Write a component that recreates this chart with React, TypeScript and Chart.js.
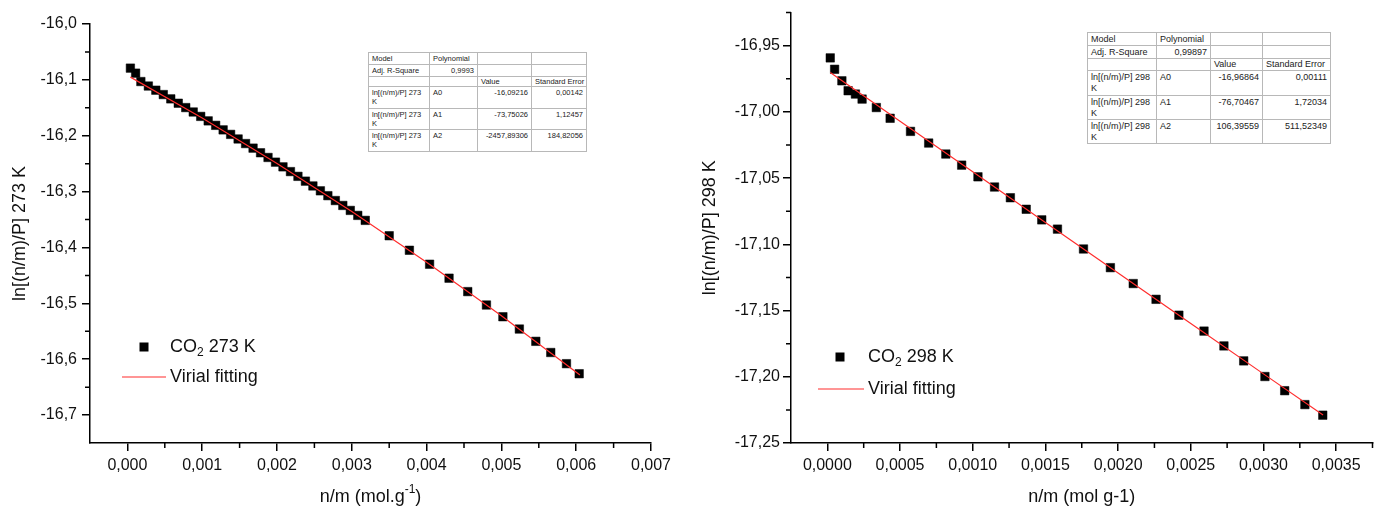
import React, { useEffect, useRef } from 'react';
import { Chart, registerables } from 'chart.js';

Chart.register(...registerables);

const FONT = '"Liberation Sans", Arial, Helvetica, sans-serif';

// ---------- CO2 at 273 K ----------
const uptake273 = [
  0.00004, 0.00011, 0.00018, 0.00028, 0.00038, 0.00048, 0.00058, 0.00068, 0.00078, 0.00088,
  0.00098, 0.00108, 0.00118, 0.00128, 0.00138, 0.00148, 0.00158, 0.00168, 0.00178, 0.00188,
  0.00198, 0.00208, 0.00218, 0.00228, 0.00238, 0.00248, 0.00258, 0.00268, 0.00278, 0.00288,
  0.00298, 0.00308, 0.00318,
  0.0035, 0.00377, 0.00404, 0.0043, 0.00455, 0.0048, 0.00502, 0.00524, 0.00546, 0.00566,
  0.00587, 0.00604,
];
const lnNP273 = [
  -16.079, -16.088, -16.103, -16.111, -16.1185, -16.1263, -16.134, -16.1418, -16.1496, -16.1575,
  -16.1654, -16.1734, -16.1814, -16.1895, -16.1976, -16.2058, -16.214, -16.2222, -16.2305, -16.2389,
  -16.2473, -16.2557, -16.2642, -16.2727, -16.2813, -16.2899, -16.2986, -16.3073, -16.316, -16.3248,
  -16.3337, -16.3426, -16.3515,
  -16.379, -16.405, -16.43, -16.455, -16.479, -16.503, -16.524, -16.546, -16.568, -16.588,
  -16.608, -16.626,
];
const fitX273 = [0.00004, 0.001, 0.002, 0.003, 0.004, 0.005, 0.00605];
const fitY273 = [-16.0951, -16.1684, -16.2495, -16.3355, -16.4265, -16.5224, -16.6283];

const xMajor273 = [0, 0.001, 0.002, 0.003, 0.004, 0.005, 0.006, 0.007];
const xLabels273 = ['0,000', '0,001', '0,002', '0,003', '0,004', '0,005', '0,006', '0,007'];
const xMinor273 = [0.0005, 0.0015, 0.0025, 0.0035, 0.0045, 0.0055, 0.0065];
const yMajor273 = [-16.7, -16.6, -16.5, -16.4, -16.3, -16.2, -16.1, -16.0];
const yLabels273 = ['-16,7', '-16,6', '-16,5', '-16,4', '-16,3', '-16,2', '-16,1', '-16,0'];
const yMinor273 = [-16.65, -16.55, -16.45, -16.35, -16.25, -16.15, -16.05];

const fitRows273 = [
  ['Model', 'Polynomial', '', ''],
  ['Adj. R-Square', '0,9993', '', ''],
  ['', '', 'Value', 'Standard Error'],
  ['ln[(n/m)/P] 273\nK', 'A0', '-16,09216', '0,00142'],
  ['ln[(n/m)/P] 273\nK', 'A1', '-73,75026', '1,12457'],
  ['ln[(n/m)/P] 273\nK', 'A2', '-2457,89306', '184,82056'],
];

// ---------- CO2 at 298 K ----------
const uptake298 = [
  0.00002, 0.00005, 0.0001, 0.000143, 0.000193, 0.000239, 0.000337, 0.000432, 0.000572, 0.000697,
  0.000815, 0.000924, 0.001036, 0.00115, 0.001259, 0.001368, 0.001475, 0.001583, 0.001762, 0.001947,
  0.002104, 0.002261, 0.002418, 0.002591, 0.002728, 0.002864, 0.00301, 0.003146, 0.003285, 0.003408,
];
const lnNP298 = [
  -16.9592, -16.9678, -16.9765, -16.984, -16.9865, -16.9903, -16.9967, -17.0048, -17.0147, -17.0235,
  -17.0318, -17.0402, -17.049, -17.0567, -17.0648, -17.0735, -17.0815, -17.0885, -17.1035, -17.1176,
  -17.1296, -17.1415, -17.1535, -17.1655, -17.1767, -17.188, -17.1998, -17.2105, -17.221, -17.229,
];
const fitX298 = [0.00002, 0.0005, 0.001, 0.0015, 0.002, 0.0025, 0.003, 0.00341];
const fitY298 = [-16.9702, -17.007, -17.0452, -17.0835, -17.1216, -17.1597, -17.1978, -17.2289];

const xMajor298 = [0, 0.0005, 0.001, 0.0015, 0.002, 0.0025, 0.003, 0.0035];
const xLabels298 = ['0,0000', '0,0005', '0,0010', '0,0015', '0,0020', '0,0025', '0,0030', '0,0035'];
const xMinor298 = [0.00025, 0.00075, 0.00125, 0.00175, 0.00225, 0.00275, 0.00325, 0.00375];
const yMajor298 = [-17.25, -17.2, -17.15, -17.1, -17.05, -17.0, -16.95];
const yLabels298 = ['-17,25', '-17,20', '-17,15', '-17,10', '-17,05', '-17,00', '-16,95'];
const yMinor298 = [-17.225, -17.175, -17.125, -17.075, -17.025, -16.975, -16.925];

const fitRows298 = [
  ['Model', 'Polynomial', '', ''],
  ['Adj. R-Square', '0,99897', '', ''],
  ['', '', 'Value', 'Standard Error'],
  ['ln[(n/m)/P] 298\nK', 'A0', '-16,96864', '0,00111'],
  ['ln[(n/m)/P] 298\nK', 'A1', '-76,70467', '1,72034'],
  ['ln[(n/m)/P] 298\nK', 'A2', '106,39559', '511,52349'],
];

type Part = { t: string; size?: number; shift?: number };

function partsWidth(ctx: CanvasRenderingContext2D, parts: Part[], base: number) {
  let w = 0;
  for (const p of parts) {
    ctx.font = `${p.size || base}px ${FONT}`;
    w += ctx.measureText(p.t).width;
  }
  return w;
}

function drawParts(ctx: CanvasRenderingContext2D, parts: Part[], x: number, y: number, base: number) {
  let cx = x;
  for (const p of parts) {
    ctx.font = `${p.size || base}px ${FONT}`;
    ctx.fillText(p.t, cx, y + (p.shift || 0));
    cx += ctx.measureText(p.t).width;
  }
}

// Minor ticks, axis titles and the in-plot legend
function makeDecorPlugin(o: any) {
  return {
    id: 'decor',
    afterDraw(chart: any) {
      const ctx: CanvasRenderingContext2D = chart.ctx;
      const xs = chart.scales.x;
      const ys = chart.scales.y;
      const area = chart.chartArea;
      ctx.save();
      ctx.textAlign = 'left';
      ctx.strokeStyle = '#000';
      ctx.lineWidth = 1.5;
      ctx.beginPath();
      for (const v of o.xMinor) {
        const px = xs.getPixelForValue(v);
        ctx.moveTo(px, area.bottom);
        ctx.lineTo(px, area.bottom + 5);
      }
      for (const v of o.yMinor) {
        const py = ys.getPixelForValue(v);
        ctx.moveTo(area.left, py);
        ctx.lineTo(area.left - 5, py);
      }
      ctx.stroke();

      ctx.fillStyle = '#111';
      ctx.textBaseline = 'middle';
      // x title
      const xw = partsWidth(ctx, o.xTitle, 18);
      drawParts(ctx, o.xTitle, (area.left + area.right) / 2 - xw / 2, o.xTitleY, 18);
      // y title
      ctx.save();
      ctx.translate(o.yTitleX, (area.top + area.bottom) / 2);
      ctx.rotate(-Math.PI / 2);
      ctx.font = `18px ${FONT}`;
      ctx.textAlign = 'center';
      ctx.fillText(o.yTitle, 0, 0);
      ctx.restore();

      // legend
      const lg = o.legend;
      const pts = chart.data.datasets[1];
      const fit = chart.data.datasets[0];
      ctx.fillStyle = pts.backgroundColor;
      ctx.fillRect(lg.markerX - 4.5, lg.markerY - 4.5, 9, 9);
      ctx.strokeStyle = fit.borderColor;
      ctx.lineWidth = 1.2;
      ctx.beginPath();
      ctx.moveTo(lg.lineX0, lg.lineY);
      ctx.lineTo(lg.lineX1, lg.lineY);
      ctx.stroke();
      ctx.fillStyle = '#111';
      ctx.textAlign = 'left';
      drawParts(ctx, lg.pointsLabel, lg.textX, lg.markerY, 18);
      drawParts(ctx, [{ t: fit.label }], lg.textX, lg.lineY, 18);
      ctx.restore();
    },
  };
}

function makeConfig(p: any) {
  return {
    type: 'scatter',
    data: {
      datasets: [
        {
          label: 'Virial fitting',
          data: p.fitX.map((x: number, i: number) => ({ x, y: p.fitY[i] })),
          showLine: true,
          borderColor: 'rgb(255,45,45)',
          borderWidth: 1.2,
          pointRadius: 0,
          tension: 0,
          fill: false,
        },
        {
          label: p.seriesName,
          data: p.xs.map((x: number, i: number) => ({ x, y: p.ys[i] })),
          pointStyle: 'rect',
          pointRadius: 6,
          backgroundColor: '#000',
          borderColor: '#000',
          borderWidth: 0.5,
          showLine: false,
          clip: false,
        },
      ],
    },
    options: {
      animation: false,
      responsive: false,
      maintainAspectRatio: false,
      events: [],
      layout: { padding: { top: p.top, right: p.right, left: 0, bottom: 0 } },
      plugins: {
        legend: { display: false },
        tooltip: { enabled: false },
      },
      scales: {
        x: {
          type: 'linear',
          min: p.xMin,
          max: p.xMax,
          afterBuildTicks: (s: any) => {
            s.ticks = p.xMajor.map((value: number) => ({ value }));
          },
          afterFit: (s: any) => {
            s.height = p.xAxisHeight;
          },
          border: { display: true, color: '#000', width: 1.5 },
          grid: { display: true, drawOnChartArea: false, drawTicks: true, tickLength: 8, color: '#000', lineWidth: 1.5 },
          ticks: {
            autoSkip: false,
            maxRotation: 0,
            padding: 5,
            color: '#111',
            font: { family: FONT, size: 16 },
            callback: (_v: number, i: number) => p.xLabels[i],
          },
        },
        y: {
          type: 'linear',
          min: p.yMin,
          max: p.yMax,
          afterBuildTicks: (s: any) => {
            s.ticks = p.yMajor.map((value: number) => ({ value }));
          },
          afterFit: (s: any) => {
            s.width = p.yAxisWidth;
          },
          border: { display: true, color: '#000', width: 1.5 },
          grid: { display: true, drawOnChartArea: false, drawTicks: true, tickLength: 8, color: '#000', lineWidth: 1.5 },
          ticks: {
            autoSkip: false,
            padding: p.yPad,
            color: '#111',
            font: { family: FONT, size: 16 },
            callback: (_v: number, i: number) => p.yLabels[i],
          },
        },
      },
    },
    plugins: [makeDecorPlugin(p.decor)],
  };
}

function PlotCanvas({ width, height, config, left }: any) {
  const ref = useRef<HTMLCanvasElement | null>(null);
  useEffect(() => {
    if (!ref.current) return;
    const chart = new Chart(ref.current, config);
    return () => chart.destroy();
  }, []);
  return (
    <canvas
      ref={ref}
      width={width}
      height={height}
      style={{ position: 'absolute', left, top: 0, width, height }}
    />
  );
}

function FitTable({ left, top, colWidths, rowHeights, fontSize, rows }: any) {
  const total = colWidths.reduce((a: number, b: number) => a + b, 0);
  const isNum = (s: string) => /^-?\d+,\d+$/.test(s);
  return (
    <table
      style={{
        position: 'absolute',
        left,
        top,
        width: total,
        borderCollapse: 'collapse',
        tableLayout: 'fixed',
        fontFamily: FONT,
        fontSize,
        color: '#222',
        background: '#fff',
        border: '1px solid #8a8a8a',
      }}
    >
      <colgroup>
        {colWidths.map((w: number, i: number) => (
          <col key={i} style={{ width: w }} />
        ))}
      </colgroup>
      <tbody>
        {rows.map((r: string[], ri: number) => (
          <tr key={ri} style={{ height: rowHeights[ri] }}>
            {r.map((c: string, ci: number) => (
              <td
                key={ci}
                style={{
                  border: '1px solid #b8b8b8',
                  padding: ri >= 3 ? '1px 3px 0 3px' : '0 3px',
                  textAlign: isNum(c) ? 'right' : 'left',
                  verticalAlign: ri >= 3 ? 'top' : 'middle',
                  whiteSpace: 'pre',
                  lineHeight: `${Math.round(fontSize * 1.25)}px`,
                  overflow: 'hidden',
                  boxSizing: 'border-box',
                }}
              >
                {c}
              </td>
            ))}
          </tr>
        ))}
      </tbody>
    </table>
  );
}

const config273 = makeConfig({
  seriesName: 'CO2 273 K',
  xs: uptake273,
  ys: lnNP273,
  fitX: fitX273,
  fitY: fitY273,
  xMin: -0.0005,
  xMax: 0.007,
  yMin: -16.75,
  yMax: -16.0,
  xMajor: xMajor273,
  xLabels: xLabels273,
  yMajor: yMajor273,
  yLabels: yLabels273,
  top: 24,
  right: 39,
  xAxisHeight: 66,
  yAxisWidth: 90,
  yPad: 5,
  decor: {
    xMinor: xMinor273,
    yMinor: yMinor273,
    xTitle: [{ t: 'n/m (mol.g' }, { t: '-1', size: 12, shift: -7 }, { t: ')' }],
    xTitleY: 497,
    yTitle: 'ln[(n/m)/P] 273 K',
    yTitleX: 20,
    legend: {
      markerX: 144,
      markerY: 347,
      lineX0: 122,
      lineX1: 166,
      lineY: 377,
      textX: 170,
      pointsLabel: [{ t: 'CO' }, { t: '2', size: 12, shift: 6 }, { t: ' 273 K' }],
    },
  },
});

const config298 = makeConfig({
  seriesName: 'CO2 298 K',
  xs: uptake298,
  ys: lnNP298,
  fitX: fitX298,
  fitY: fitY298,
  xMin: -0.00025,
  xMax: 0.00375,
  yMin: -17.25,
  yMax: -16.925,
  xMajor: xMajor298,
  xLabels: xLabels298,
  yMajor: yMajor298,
  yLabels: yLabels298,
  top: 7,
  right: 1,
  xAxisHeight: 66,
  yAxisWidth: 101,
  yPad: 3,
  decor: {
    xMinor: xMinor298,
    yMinor: yMinor298,
    xTitle: [{ t: 'n/m (mol g-1)' }],
    xTitleY: 497,
    yTitle: 'ln[(n/m)/P] 298 K',
    yTitleX: 20,
    legend: {
      markerX: 150,
      markerY: 357,
      lineX0: 128,
      lineX1: 174,
      lineY: 389,
      textX: 178,
      pointsLabel: [{ t: 'CO' }, { t: '2', size: 12, shift: 6 }, { t: ' 298 K' }],
    },
  },
});

export default function App() {
  return (
    <div
      style={{
        position: 'fixed',
        left: 0,
        top: 0,
        width: 1379,
        height: 509,
        background: '#fff',
        overflow: 'hidden',
      }}
    >
      <PlotCanvas width={690} height={509} left={0} config={config273} />
      <PlotCanvas width={689} height={509} left={690} config={config298} />
      <FitTable
        left={368}
        top={52}
        colWidths={[61, 48, 54, 55]}
        rowHeights={[12, 12, 10, 22, 21, 22]}
        fontSize={7.5}
        rows={fitRows273}
      />
      <FitTable
        left={1087}
        top={32}
        colWidths={[69, 54, 52, 68]}
        rowHeights={[13, 13, 11, 25, 24, 24]}
        fontSize={9}
        rows={fitRows298}
      />
    </div>
  );
}
